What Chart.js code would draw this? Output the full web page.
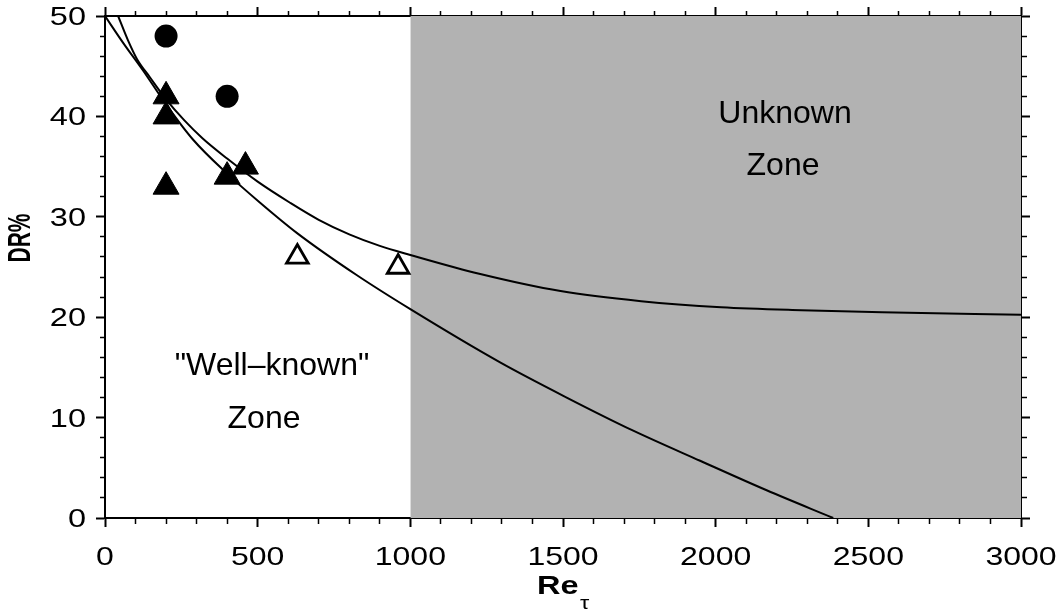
<!DOCTYPE html>
<html>
<head>
<meta charset="utf-8">
<title>DR% vs Re_tau</title>
<script src="https://cdn.jsdelivr.net/npm/chart.js@4.4.1/dist/chart.umd.min.js"></script>
<style>
  html, body { margin: 0; padding: 0; background: #fff; }
  canvas { display: block; }
</style>
</head>
<body>
<canvas id="chart" width="1063" height="615"></canvas>
<script>
// tick labels
var xTickLabels = [0, 500, 1000, 1500, 2000, 2500, 3000];
var yTickLabels = [0, 10, 20, 30, 40, 50];

// shaded "unknown" zone (Re from 1000 to 3000, full height)
var zoneRe = [1000, 3000];
var zoneTop = [50, 50];

// fitted curve levelling off near 20%
var upperRe = [43, 75, 105, 147, 200, 260, 320, 400, 500, 606, 700, 800, 900, 1000, 1229, 1492, 1756, 2018, 2281, 2545, 3000];
var upperDR = [50, 47.6, 45.7, 43.9, 41.7, 39.6, 37.8, 35.8, 33.5, 31.4, 29.7, 28.25, 27.1, 26.2, 24.3, 22.6, 21.6, 21.0, 20.7, 20.5, 20.25];

// fitted curve falling to zero
var lowerRe = [0, 60, 124, 200, 288, 400, 508, 628, 824, 1000, 1294, 1512, 1730, 1949, 2167, 2385];
var lowerDR = [50, 47.3, 44.6, 41.2, 37.7, 34.3, 31.4, 28.4, 24.2, 20.8, 15.5, 12.0, 8.7, 5.7, 2.76, 0];

// measured points
var circleRe = [200, 400];
var circleDR = [48, 42];
var triRe = [200, 200, 200, 400, 460];
var triDR = [42, 40, 33, 34, 35];
var openTriRe = [630, 960];
var openTriDR = [26, 25];

function toPoints(xs, ys) {
    return xs.map(function(x, i) { return {x: x, y: ys[i]}; });
}

// minor ticks are shorter: dash the tick line so only the part next to the axis shows
function tickDash(step, outerFirst) {
    return function(ctx) {
        if (!ctx.tick || ctx.tick.value % step === 0) return [];
        return outerFirst ? [0, 4, 5, 100] : [5, 100];
    };
}
function tickWidth(step) {
    return function(ctx) {
        return (ctx.tick && ctx.tick.value % step === 0) ? 2 : 1.5;
    };
}

function axis(dir, pos, min, max, stepSize, major, outerFirst, size) {
    return {
        type: 'linear',
        axis: dir,
        position: pos,
        min: min,
        max: max,
        z: 1,
        ticks: { display: false, stepSize: stepSize, autoSkip: false },
        grid: {
            display: true,
            drawOnChartArea: false,
            drawTicks: true,
            tickLength: 9,
            tickColor: '#000',
            tickWidth: tickWidth(major),
            tickBorderDash: tickDash(major, outerFirst)
        },
        border: { display: true, color: '#000', width: 2 },
        afterFit: function(scale) {
            if (dir === 'x') scale.height = size; else scale.width = size;
        }
    };
}

function stretchText(ctx, text, x, y, font, sx, align) {
    ctx.save();
    ctx.font = font;
    ctx.fillStyle = '#000';
    ctx.textAlign = align;
    ctx.textBaseline = 'alphabetic';
    ctx.translate(x, y);
    ctx.scale(sx, 1);
    ctx.fillText(text, 0, 0);
    ctx.restore();
}

var labelsPlugin = {
    id: 'labels',
    afterDraw: function(chart) {
        var ctx = chart.ctx;
        var xs = chart.scales.x, ys = chart.scales.y;
        var tickFont = '25px "Liberation Sans", Arial, sans-serif';

        xTickLabels.forEach(function(v) {
            stretchText(ctx, String(v), xs.getPixelForValue(v), 565, tickFont, 1.28, 'center');
        });
        yTickLabels.forEach(function(v) {
            stretchText(ctx, String(v), 86, ys.getPixelForValue(v) + 9, tickFont, 1.3, 'right');
        });

        // axis titles
        stretchText(ctx, 'Re', 537, 594, 'bold 25px "Liberation Sans", Arial, sans-serif', 1.3, 'left');
        stretchText(ctx, '\u03c4', 580, 609, '18px "Liberation Sans", Arial, sans-serif', 1.3, 'left');

        ctx.save();
        ctx.translate(21, 238);
        ctx.rotate(-Math.PI / 2);
        ctx.scale(1, 1.5);
        ctx.font = 'bold 21px "Liberation Sans", Arial, sans-serif';
        ctx.fillStyle = '#000';
        ctx.textAlign = 'center';
        ctx.textBaseline = 'middle';
        ctx.fillText('DR%', 0, 0);
        ctx.restore();

        // zone captions
        var zoneFont = '32px "Liberation Sans", Arial, sans-serif';
        stretchText(ctx, '"Well\u2013known"', 272, 375, zoneFont, 1, 'center');
        stretchText(ctx, 'Zone', 264, 428, zoneFont, 1, 'center');
        stretchText(ctx, 'Unknown', 785, 123, zoneFont, 1, 'center');
        stretchText(ctx, 'Zone', 783, 175, zoneFont, 1, 'center');
    }
};

var lineStyle = {
    showLine: true,
    borderColor: '#000',
    borderWidth: 2,
    pointRadius: 0,
    cubicInterpolationMode: 'monotone',
    fill: false,
    order: 5
};

new Chart(document.getElementById('chart'), {
    type: 'scatter',
    data: {
        datasets: [
            {
                label: 'Unknown zone',
                data: toPoints(zoneRe, zoneTop),
                showLine: true,
                fill: 'origin',
                backgroundColor: '#b2b2b2',
                borderWidth: 0,
                pointRadius: 0,
                tension: 0,
                order: 10
            },
            Object.assign({ label: 'Upper fit', data: toPoints(upperRe, upperDR) }, lineStyle),
            Object.assign({ label: 'Lower fit', data: toPoints(lowerRe, lowerDR) }, lineStyle),
            {
                label: 'Circles',
                data: toPoints(circleRe, circleDR),
                pointStyle: 'circle',
                pointRadius: 11.5,
                pointBackgroundColor: '#000',
                pointBorderColor: '#000',
                pointBorderWidth: 0,
                order: 1
            },
            {
                label: 'Filled triangles',
                data: toPoints(triRe, triDR),
                pointStyle: 'triangle',
                pointRadius: 15,
                pointBackgroundColor: '#000',
                pointBorderColor: '#000',
                pointBorderWidth: 1,
                order: 1
            },
            {
                label: 'Open triangles',
                data: toPoints(openTriRe, openTriDR),
                pointStyle: 'triangle',
                pointRadius: 12.5,
                pointBackgroundColor: 'rgba(255,255,255,0)',
                pointBorderColor: '#000',
                pointBorderWidth: 2.8,
                order: 1
            }
        ]
    },
    options: {
        responsive: false,
        animation: false,
        devicePixelRatio: 1,
        events: [],
        layout: { padding: 0 },
        plugins: {
            legend: { display: false },
            tooltip: { enabled: false }
        },
        scales: {
            x: axis('x', 'bottom', 0, 3000, 100, 500, false, 97),
            x2: axis('x', 'top', 0, 3000, 100, 500, true, 11),
            y: axis('y', 'left', 0, 50, 2, 10, true, 105),
            y2: axis('y', 'right', 0, 50, 2, 10, false, 42)
        }
    },
    plugins: [labelsPlugin]
});
</script>
</body>
</html>
